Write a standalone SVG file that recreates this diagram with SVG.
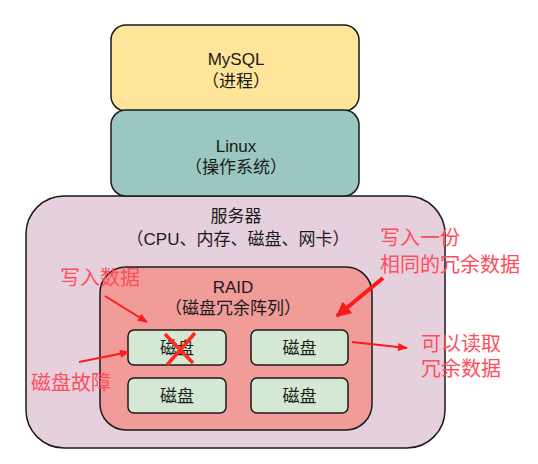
<svg xmlns="http://www.w3.org/2000/svg" width="538" height="464" viewBox="0 0 538 464">
<style>
.box{stroke:#1a1a1a;stroke-width:1.5}
.t{font-family:"Liberation Sans","Noto Sans CJK SC",sans-serif;font-size:17px;fill:#1a1a1a;text-anchor:middle}
.r{font-family:"Liberation Sans","Noto Sans CJK SC",sans-serif;font-size:20px;fill:#FF4D5B}
.arr{stroke:#FF1A1A;fill:none}
</style>
<defs>
<marker id="ah" viewBox="0 0 10 8" refX="9" refY="4" markerWidth="11" markerHeight="8" markerUnits="userSpaceOnUse" orient="auto">
<path d="M0,0 L10,4 L0,8 z" fill="#FF1A1A"/>
</marker>
<marker id="ahb" viewBox="0 0 10 10" refX="9" refY="5" markerWidth="16" markerHeight="15" markerUnits="userSpaceOnUse" orient="auto">
<path d="M0,0 L10,5 L0,10 z" fill="#FF1A1A"/>
</marker>
</defs>
<rect width="538" height="464" fill="#ffffff"/>
<g id="server">
<rect class="box" x="26" y="196" width="419" height="252" rx="38" fill="#E6D0DE"/>
<text class="t" x="236" y="222">服务器</text>
<text class="t" x="238" y="245">（CPU、内存、磁盘、网卡）</text>
</g>
<g id="mysql">
<rect class="box" x="111" y="25" width="248" height="86" rx="15" fill="#FFE599"/>
<text class="t" x="236" y="65">MySQL</text>
<text class="t" x="236" y="87">（进程）</text>
</g>
<g id="linux">
<rect class="box" x="111" y="110" width="248" height="86" rx="15" fill="#9AC7BF"/>
<text class="t" x="236" y="152">Linux</text>
<text class="t" x="236" y="173">（操作系统）</text>
</g>
<g id="raid">
<rect class="box" x="100" y="267" width="272" height="163" rx="26" fill="#F19C99"/>
<text class="t" x="233" y="293">RAID</text>
<text class="t" x="233" y="314">（磁盘冗余阵列）</text>
</g>
<g id="disk1">
<rect class="box" x="128" y="330" width="98" height="35" rx="6" fill="#D5E8D4"/>
<text class="t" x="177" y="354">磁盘</text>
<path d="M165,334 L193,363 M195,333 L167,365" stroke="#FF2A1A" stroke-width="3.5" fill="none"/>
</g>
<g id="disk2">
<rect class="box" x="251" y="330" width="97" height="35" rx="6" fill="#D5E8D4"/>
<text class="t" x="299.5" y="354">磁盘</text>
</g>
<g id="disk3">
<rect class="box" x="128" y="378" width="98" height="35" rx="6" fill="#D5E8D4"/>
<text class="t" x="177" y="402">磁盘</text>
</g>
<g id="disk4">
<rect class="box" x="251" y="378" width="97" height="35" rx="6" fill="#D5E8D4"/>
<text class="t" x="299.5" y="402">磁盘</text>
</g>
<g id="labels">
<text class="r" x="60" y="285">写入数据</text>
<text class="r" x="31" y="390">磁盘故障</text>
<text class="r" x="380" y="245">写入一份</text>
<text class="r" x="380" y="272">相同的冗余数据</text>
<text class="r" x="421" y="351">可以读取</text>
<text class="r" x="421" y="376">冗余数据</text>
</g>
<g id="connectors">
<line class="arr" x1="105" y1="296" x2="147" y2="322" stroke-width="2" marker-end="url(#ah)"/>
<line class="arr" x1="79" y1="362" x2="129" y2="352" stroke-width="2" marker-end="url(#ah)"/>
<line class="arr" x1="383" y1="278" x2="337" y2="316" stroke-width="4" marker-end="url(#ahb)"/>
<line class="arr" x1="352" y1="342" x2="407" y2="348" stroke-width="2" marker-end="url(#ah)"/>
</g>
</svg>
